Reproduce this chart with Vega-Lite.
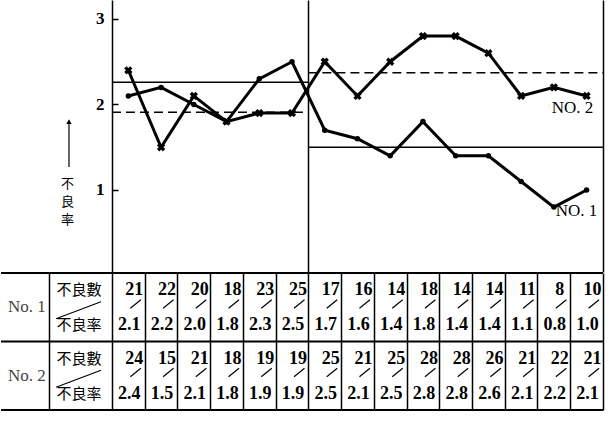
{
  "$schema": "https://vega.github.io/schema/vega-lite/v6.json",
  "padding": 0,
  "background": "white",
  "spacing": 0,
  "config": {
    "view": {"stroke": null},
    "rule": {"color": "black", "strokeWidth": 1.5},
    "line": {"color": "black", "strokeWidth": 3},
    "point": {"color": "black", "opacity": 1},
    "text": {"font": "Liberation Serif", "color": "black", "fontSize": 17},
    "concat": {"spacing": 0}
  },
  "datasets": {
    "t": [
      {"line": "No. 1", "n": 1, "count": 21, "rate": 2.1},
      {"line": "No. 1", "n": 2, "count": 22, "rate": 2.2},
      {"line": "No. 1", "n": 3, "count": 20, "rate": 2.0},
      {"line": "No. 1", "n": 4, "count": 18, "rate": 1.8},
      {"line": "No. 1", "n": 5, "count": 23, "rate": 2.3},
      {"line": "No. 1", "n": 6, "count": 25, "rate": 2.5},
      {"line": "No. 1", "n": 7, "count": 17, "rate": 1.7},
      {"line": "No. 1", "n": 8, "count": 16, "rate": 1.6},
      {"line": "No. 1", "n": 9, "count": 14, "rate": 1.4},
      {"line": "No. 1", "n": 10, "count": 18, "rate": 1.8},
      {"line": "No. 1", "n": 11, "count": 14, "rate": 1.4},
      {"line": "No. 1", "n": 12, "count": 14, "rate": 1.4},
      {"line": "No. 1", "n": 13, "count": 11, "rate": 1.1},
      {"line": "No. 1", "n": 14, "count": 8, "rate": 0.8},
      {"line": "No. 1", "n": 15, "count": 10, "rate": 1.0},
      {"line": "No. 2", "n": 1, "count": 24, "rate": 2.4},
      {"line": "No. 2", "n": 2, "count": 15, "rate": 1.5},
      {"line": "No. 2", "n": 3, "count": 21, "rate": 2.1},
      {"line": "No. 2", "n": 4, "count": 18, "rate": 1.8},
      {"line": "No. 2", "n": 5, "count": 19, "rate": 1.9},
      {"line": "No. 2", "n": 6, "count": 19, "rate": 1.9},
      {"line": "No. 2", "n": 7, "count": 25, "rate": 2.5},
      {"line": "No. 2", "n": 8, "count": 21, "rate": 2.1},
      {"line": "No. 2", "n": 9, "count": 25, "rate": 2.5},
      {"line": "No. 2", "n": 10, "count": 28, "rate": 2.8},
      {"line": "No. 2", "n": 11, "count": 28, "rate": 2.8},
      {"line": "No. 2", "n": 12, "count": 26, "rate": 2.6},
      {"line": "No. 2", "n": 13, "count": 21, "rate": 2.1},
      {"line": "No. 2", "n": 14, "count": 22, "rate": 2.2},
      {"line": "No. 2", "n": 15, "count": 21, "rate": 2.1}
    ]
  },
  "vconcat": [
    {
      "width": 614,
      "height": 272,
      "data": {"name": "t"},
      "encoding": {
        "x": {
          "field": "n", "type": "quantitative", "title": null,
          "scale": {"domain": [-2.891, 15.868], "nice": false, "zero": false},
          "axis": {"orient": "bottom", "values": [6.5, 15.5], "grid": true, "gridColor": "black", "gridWidth": 1.5, "gridOpacity": 1, "ticks": false, "labels": false, "domain": false, "title": null}
        },
        "y": {
          "field": "rate", "type": "quantitative",
          "scale": {"domain": [0.041, 3.222], "nice": false, "zero": false},
          "axis": {"values": [1, 2, 3], "offset": -111, "grid": false, "domainColor": "black", "domainWidth": 1.5, "tickColor": "black", "tickWidth": 1.5, "tickSize": -6, "labelPadding": 14, "labelFont": "Liberation Serif", "labelFontSize": 17, "labelFontWeight": "bold", "labelColor": "black", "format": "d",
            "title": ["不", "良", "率"], "titleAngle": 0, "titleFont": "Noto Sans CJK JP", "titleFontSize": 13, "titleFontWeight": "normal", "titleLineHeight": 18, "titleBaseline": "middle", "titleAlign": "center", "titleX": -45, "titleY": 183, "titleColor": "black"}
        }
      },
      "layer": [
        {
          "data": {"values": [
            {"s": "No. 1", "a": 0.5, "b": 6.5, "m": 2.26},
            {"s": "No. 2", "a": 0.5, "b": 6.5, "m": 1.91},
            {"s": "No. 2", "a": 6.5, "b": 15.5, "m": 2.37},
            {"s": "No. 1", "a": 6.5, "b": 15.5, "m": 1.50}
          ]},
          "mark": {"type": "rule", "strokeWidth": 1.5},
          "encoding": {
            "x": {"field": "a", "type": "quantitative"},
            "x2": {"field": "b"},
            "y": {"field": "m", "type": "quantitative"},
            "strokeDash": {"field": "s", "type": "nominal", "scale": {"domain": ["No. 1", "No. 2"], "range": [[1, 0], [9, 5]]}, "legend": null}
          }
        },
        {
          "mark": {"type": "line", "strokeWidth": 3},
          "encoding": {"detail": {"field": "line", "type": "nominal"}}
        },
        {
          "transform": [{"filter": "datum.line == 'No. 1'"}],
          "mark": {"type": "point", "shape": "circle", "filled": true, "size": 30}
        },
        {
          "transform": [{"filter": "datum.line == 'No. 2'"}],
          "mark": {"type": "point", "shape": "cross", "angle": 45, "filled": true, "size": 70}
        },
        {
          "transform": [{"filter": "datum.n == 15 && datum.line == 'No. 2'"}],
          "mark": {"type": "text", "text": "NO. 2", "fontSize": 17, "dx": -14, "dy": 12}
        },
        {
          "transform": [{"filter": "datum.n == 15 && datum.line == 'No. 1'"}],
          "mark": {"type": "text", "text": "NO. 1", "fontSize": 17, "dx": -10, "dy": 21}
        },
        {
          "transform": [{"filter": "datum.n == 1 && datum.line == 'No. 1'"}],
          "mark": {"type": "rule", "strokeWidth": 1.2},
          "encoding": {"x": {"datum": -0.814, "type": "quantitative"}, "y": {"datum": 1.27, "type": "quantitative"}, "y2": {"datum": 1.79}}
        },
        {
          "transform": [{"filter": "datum.n == 1 && datum.line == 'No. 1'"}],
          "mark": {"type": "point", "shape": "triangle-up", "filled": true, "size": 28},
          "encoding": {"x": {"datum": -0.814, "type": "quantitative"}, "y": {"datum": 1.80, "type": "quantitative"}}
        }
      ]
    },
    {
      "width": 614,
      "height": 137,
      "data": {"name": "t"},
      "encoding": {
        "x": {
          "field": "n", "type": "quantitative",
          "scale": {"domain": [-2.891, 15.868], "nice": false, "zero": false},
          "axis": {"orient": "top", "values": [-1.425, 0.5, 1.5, 2.5, 3.5, 4.5, 5.5, 6.5, 7.5, 8.5, 9.5, 10.5, 11.5, 12.5, 13.5, 14.5, 15.5], "grid": true, "gridColor": "black", "gridWidth": 1.5, "gridOpacity": 1, "ticks": false, "labels": false, "domain": false, "title": null}
        },
        "y": {"field": "line", "type": "nominal", "scale": {"paddingInner": 0, "paddingOuter": 0}, "axis": null}
      },
      "layer": [
        {
          "transform": [{"filter": "datum.n == 1"}],
          "mark": {"type": "rule", "strokeWidth": 1.8},
          "encoding": {"x": {"datum": -2.891, "type": "quantitative"}, "x2": {"datum": 15.5}, "y": {"field": "line", "type": "nominal", "bandPosition": 0}}
        },
        {
          "transform": [{"filter": "datum.n == 1 && datum.line == 'No. 2'"}],
          "mark": {"type": "rule", "strokeWidth": 1.8},
          "encoding": {"x": {"datum": -2.891, "type": "quantitative"}, "x2": {"datum": 15.5}, "y": {"field": "line", "type": "nominal", "bandPosition": 1}}
        },
        {
          "mark": {"type": "text", "dx": 6, "dy": -17, "fontSize": 18, "fontWeight": "bold"},
          "encoding": {"text": {"field": "count"}}
        },
        {
          "mark": {"type": "rule", "strokeWidth": 1.2, "xOffset": 2, "x2Offset": 12.5, "yOffset": 1, "y2Offset": -7.5},
          "encoding": {"x2": {"field": "n"}, "y": {"field": "line", "type": "nominal", "bandPosition": 0.5}, "y2": {"field": "line"}}
        },
        {
          "mark": {"type": "text", "dx": 1, "dy": 18, "fontSize": 18, "fontWeight": "bold"},
          "encoding": {"text": {"field": "rate", "format": ".1f"}}
        },
        {
          "transform": [{"filter": "datum.n == 1"}],
          "mark": {"type": "text", "fontSize": 17, "color": "#444"},
          "encoding": {"x": {"datum": -2.097, "type": "quantitative"}, "text": {"field": "line"}}
        },
        {
          "transform": [{"filter": "datum.n == 1"}],
          "mark": {"type": "text", "text": "不良數", "font": "Noto Sans CJK JP", "fontSize": 15, "dy": -17},
          "encoding": {"x": {"datum": -0.508, "type": "quantitative"}}
        },
        {
          "transform": [{"filter": "datum.n == 1"}],
          "mark": {"type": "text", "text": "不良率", "font": "Noto Sans CJK JP", "fontSize": 15, "dy": 18},
          "encoding": {"x": {"datum": -0.508, "type": "quantitative"}}
        },
        {
          "transform": [{"filter": "datum.n == 1"}],
          "mark": {"type": "rule", "strokeWidth": 1.2, "yOffset": 11.5, "y2Offset": -5.5},
          "encoding": {"x": {"datum": -1.21, "type": "quantitative"}, "x2": {"datum": 0.164}, "y": {"field": "line", "type": "nominal", "bandPosition": 0.5}, "y2": {"field": "line"}}
        }
      ]
    }
  ]
}
